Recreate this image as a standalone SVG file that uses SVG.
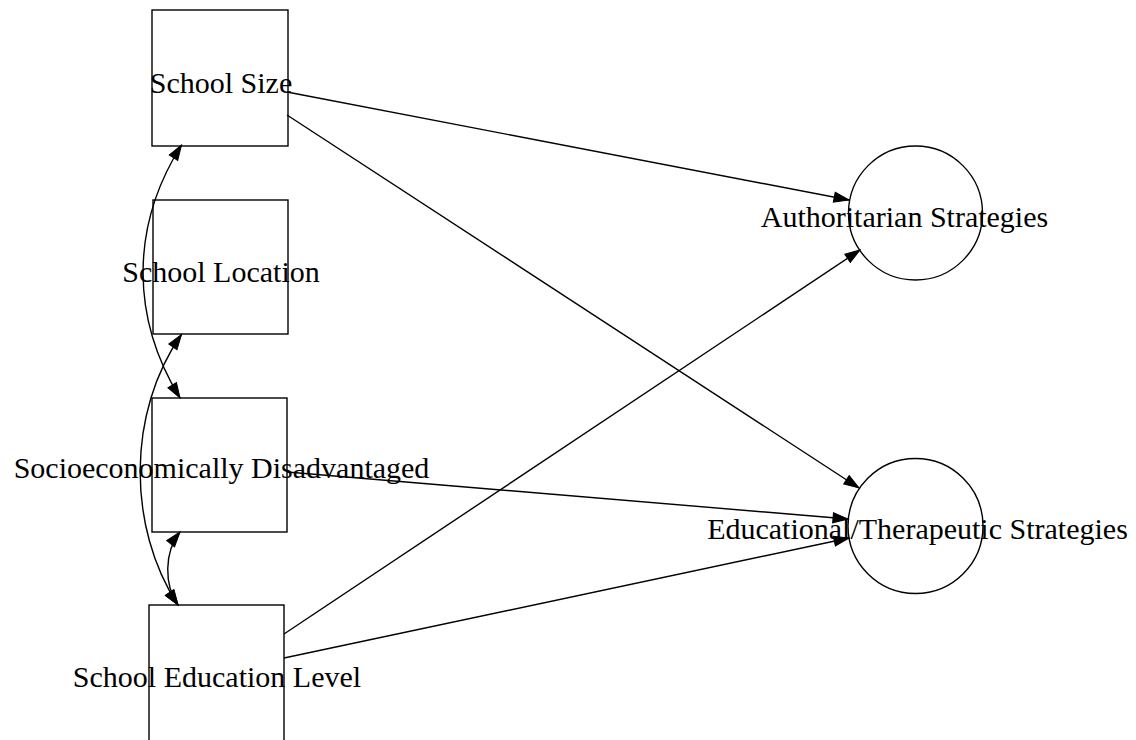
<svg xmlns="http://www.w3.org/2000/svg" width="1136" height="740" viewBox="0 0 1136 740">
<style>
.node{fill:#fff;stroke:#000;stroke-width:1.4}
.lbl{font-family:"Liberation Serif","Times New Roman",serif;font-size:30px;fill:#000;text-anchor:middle}
.edge{fill:none;stroke:#000;stroke-width:1.4}
.one{marker-end:url(#ah)}
.two{marker-start:url(#ahs);marker-end:url(#ah)}
</style>
<defs>
<marker id="ah" markerUnits="userSpaceOnUse" markerWidth="16" markerHeight="12" refX="15" refY="5" orient="auto" overflow="visible">
<path d="M0,0 L15,5 L0,10 z" fill="#000" stroke="#000" stroke-width="1"/>
</marker>
<marker id="ahs" markerUnits="userSpaceOnUse" markerWidth="16" markerHeight="12" refX="0" refY="5" orient="auto" overflow="visible">
<path d="M15,0 L0,5 L15,10 z" fill="#000" stroke="#000" stroke-width="1"/>
</marker>
</defs>
<rect width="1136" height="740" fill="#fff"/>
<g id="school_size">
<rect class="node" x="152" y="10" width="136" height="136"/>
<text class="lbl" x="221" y="93">School Size</text>
</g>
<g id="school_location">
<rect class="node" x="153" y="200" width="135" height="134"/>
<text class="lbl" x="221" y="282">School Location</text>
</g>
<g id="socioeconomically_disadvantaged">
<rect class="node" x="152" y="398" width="135" height="134"/>
<text class="lbl" x="221.5" y="478">Socioeconomically Disadvantaged</text>
</g>
<g id="school_education_level">
<rect class="node" x="149" y="605" width="135" height="140"/>
<text class="lbl" x="217" y="687">School Education Level</text>
</g>
<g id="authoritarian_strategies">
<circle class="node" cx="915.5" cy="213" r="67"/>
<text class="lbl" x="904.5" y="227">Authoritarian Strategies</text>
</g>
<g id="educational_therapeutic_strategies">
<circle class="node" cx="915.5" cy="526" r="67.5"/>
<text class="lbl" x="917.5" y="539">Educational/Therapeutic Strategies</text>
</g>
<g id="connectors">
<path class="edge one" d="M287,92 L849,200"/>
<path class="edge one" d="M287,115 L859,488"/>
<path class="edge one" d="M287,472 L848,519"/>
<path class="edge one" d="M284,634 L860,250"/>
<path class="edge one" d="M284,658 L849,538"/>
<path class="edge two" d="M181.5,145 C130.5,226 130.5,317 180,398"/>
<path class="edge two" d="M181.5,334.5 C127,412 127,527 178,605"/>
<path class="edge two" d="M180,532 C164,552 164,585 178,605"/>
</g>
</svg>
